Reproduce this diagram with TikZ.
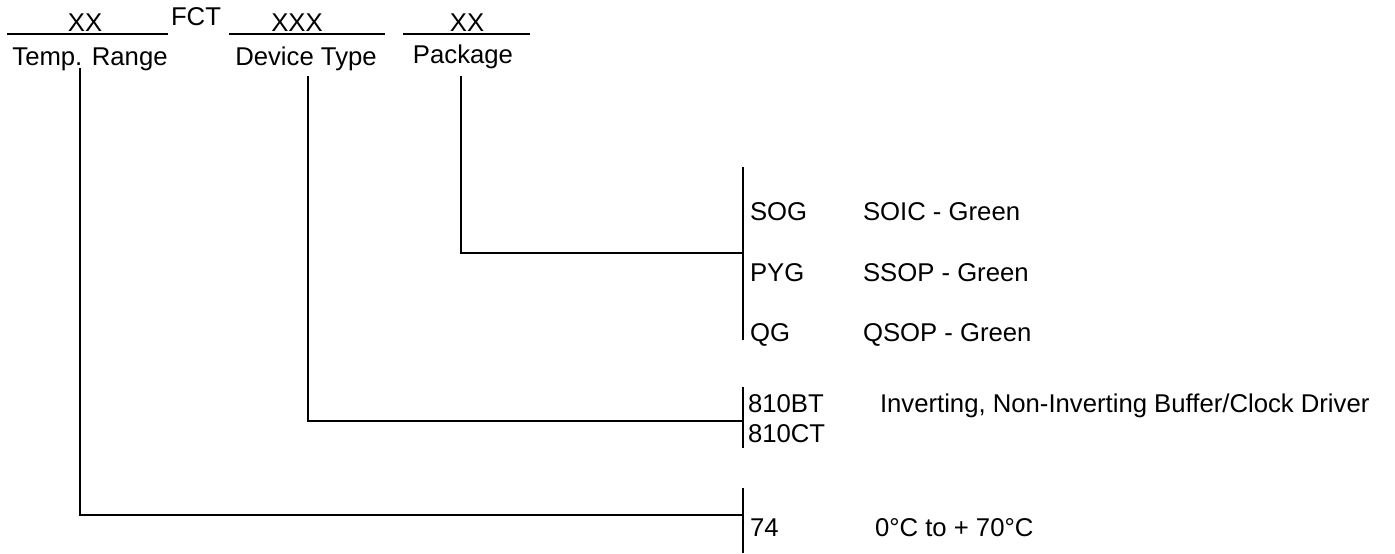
\documentclass[tikz,border=0pt]{standalone}
\usepackage{fontspec}
\setmainfont{Liberation Sans}
\begin{document}
\begin{tikzpicture}[x=1pt,y=-1pt,
  lbl/.style={inner sep=0pt,outer sep=0pt,anchor=base,font=\fontsize{25.7}{30}\selectfont},
  lblw/.style={lbl,anchor=base west},
  ln/.style={line width=2.7pt},
]
\useasboundingbox[fill=white] (0,0) rectangle (1395,554);
% header blanks
\coordinate (l1a) at (7,34);   \coordinate (l1b) at (168,34);
\coordinate (l2a) at (229,34); \coordinate (l2b) at (385,34);
\coordinate (l3a) at (403,34); \coordinate (l3b) at (530,34);
\draw[ln] (l1a) -- (l1b);
\draw[ln] (l2a) -- (l2b);
\draw[ln] (l3a) -- (l3b);
\node[lbl] (xx1) at (85,31) {XX};
\node[lbl] (fct) at (196,25) {FCT};
\node[lbl] (xxx) at (297,31.5) {XXX};
\node[lbl] (xx2) at (467,31.5) {XX};
\node[lbl] (tr) at (90,65.5) {Temp. Range};
\node[lbl] (dt) at (306,65.5) {Device Type};
\node[lbl] (pk) at (463,63.5) {Package};
% bars
\coordinate (b1t) at (743,167); \coordinate (b1b) at (743,340);
\coordinate (b2t) at (743,387); \coordinate (b2b) at (743,448);
\coordinate (b3t) at (743,488); \coordinate (b3b) at (743,553);
\draw[ln] (b1t) -- (b1b);
\draw[ln] (b2t) -- (b2b);
\draw[ln] (b3t) -- (b3b);
% connectors
\coordinate (ts) at (80,68);
\coordinate (ds) at (308,76);
\coordinate (ps) at (461,76);
\coordinate (te) at (743,515);
\coordinate (de) at (743,421);
\coordinate (pe) at (743,253);
\draw[ln] (ts) |- (te);
\draw[ln] (ds) |- (de);
\draw[ln] (ps) |- (pe);
% labels
\node[lblw] (sog) at (750,220) {SOG};
\node[lblw] (pyg) at (750,281) {PYG};
\node[lblw] (qg)  at (750,341) {QG};
\node[lblw] (soic) at (863,220) {SOIC - Green};
\node[lblw] (ssop) at (863,281) {SSOP - Green};
\node[lblw] (qsop) at (863,341) {QSOP - Green};
\node[lblw] (bt) at (748,412) {810BT};
\node[lblw] (ct) at (748,442) {810CT};
\node[lblw] (inv) at (880,412) {Inverting, Non-Inverting Buffer/Clock Driver};
\node[lblw] (s74) at (750,536) {74};
\node[lblw] (rng) at (875,536) {0°C to + 70°C};
\end{tikzpicture}
\end{document}
